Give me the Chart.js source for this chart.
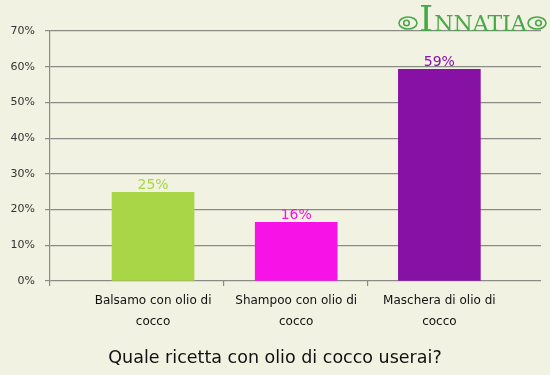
<!DOCTYPE html>
<html>
<head>
<meta charset="utf-8">
<style>
html,body{margin:0;padding:0;background:#f2f2e3;}
#wrap{width:550px;height:375px;position:relative;}
</style>
<script src="https://cdn.jsdelivr.net/npm/chart.js@4/dist/chart.umd.min.js"></script>
</head>
<body>
<div id="wrap"><canvas id="c" width="550" height="375"></canvas></div>
<script>
const categories = [["Balsamo con olio di","cocco"],["Shampoo con olio di","cocco"],["Maschera di olio di","cocco"]];
const values = [24.8, 16.4, 59.3];
const valueLabels = ["25%","16%","59%"];
const barColors = ["#a9d646","#f712e8","#8811a5"];
const yTicks = [0,10,20,30,40,50,60,70];
const titleText = "Quale ricetta con olio di cocco userai?";
const logoText = "INNATIA";

const GRID = "#8a8a86";

const valueLabelPlugin = {
  id: 'valueLabels',
  afterDatasetsDraw(chart){
    const ctx = chart.ctx;
    const meta = chart.getDatasetMeta(0);
    ctx.save();
    ctx.font = '14px "DejaVu Sans"';
    ctx.textAlign = 'center';
    ctx.textBaseline = 'alphabetic';
    meta.data.forEach((bar,i)=>{
      ctx.fillStyle = barColors[i];
      ctx.fillText(valueLabels[i], bar.x, bar.y - 3);
    });
    ctx.restore();
  }
};

const logoPlugin = {
  id: 'logo',
  afterDraw(chart){
    const ctx = chart.ctx;
    ctx.save();
    const green = "#48a848";
    ctx.fillStyle = green;
    ctx.textBaseline = 'alphabetic';
    ctx.font = '36px "DejaVu Serif"';
    ctx.textAlign = 'left';
    ctx.fillText(logoText[0], 419, 31);
    const w0 = ctx.measureText(logoText[0]).width;
    ctx.font = '22px "DejaVu Serif"';
    ctx.fillText(logoText.slice(1), 419 + w0 + 1, 31);
    // ornaments
    ctx.strokeStyle = green;
    ctx.lineWidth = 1.6;
    [[408,23,-1],[537,23,1]].forEach(([cx,cy,d])=>{
      ctx.beginPath();
      ctx.ellipse(cx, cy, 9, 6, 0, 0, Math.PI*2);
      ctx.stroke();
      ctx.beginPath();
      ctx.arc(cx + d*1.5, cy, 2.8, 0, Math.PI*2);
      ctx.stroke();
    });
    ctx.restore();
  }
};

const ctx = document.getElementById('c').getContext('2d');
new Chart(ctx, {
  type: 'bar',
  data: {
    datasets: [{
      data: values.map((v,i)=>({x:i, y:v})),
      backgroundColor: barColors,
      barThickness: 82,
      borderWidth: 0
    }]
  },
  options: {
    responsive: false,
    animation: false,
    devicePixelRatio: 1,
    layout: { padding: { top: 31, right: 9, left: 9, bottom: 0 } },
    plugins: {
      legend: { display: false },
      tooltip: { enabled: false },
      title: {
        display: true,
        text: titleText,
        position: 'bottom',
        color: '#111',
        font: { family: '"DejaVu Sans"', size: 17.5, weight: 'normal', lineHeight: 1.2 },
        padding: { top: 0, bottom: 6 }
      }
    },
    scales: {
      x: {
        type: 'linear',
        position: 'bottom',
        weight: 1,
        offset: false,
        min: -0.72,
        max: 2.71,
        afterBuildTicks: (s)=>{ s.ticks = categories.map((c,i)=>({value:i})); },
        afterFit: (s)=>{ s.height = 62; },
        ticks: {
          callback: (v)=> categories[v] || '',
          color: '#111',
          font: { family: '"DejaVu Sans"', size: 12, lineHeight: 1.75 },
          padding: 4,
          maxRotation: 0,
          autoSkip: false
        },
        grid: { display: false, drawTicks: false, offset: false },
        border: { display: false }
      },
      xt: {
        type: 'linear',
        position: 'bottom',
        weight: 0,
        offset: false,
        min: -0.72,
        max: 2.71,
        afterBuildTicks: (s)=>{ s.ticks = [{value:-0.72},{value:0.49},{value:1.5}]; },
        afterFit: (s)=>{ s.height = 5; },
        ticks: { display: false, autoSkip: false },
        grid: { display: true, offset: false, drawOnChartArea: false, drawTicks: true, tickLength: 5, color: GRID, lineWidth: 1.2 },
        border: { display: false }
      },
      y: {
        min: 0,
        max: 70,
        afterBuildTicks: (s)=>{ s.ticks = yTicks.map(v=>({value:v})); },
        afterFit: (s)=>{ s.width = 41; },
        ticks: {
          callback: (v)=> v + '%',
          color: '#333',
          font: { family: '"DejaVu Sans"', size: 11 },
          padding: 10
        },
        grid: { color: GRID, lineWidth: 1.2, tickLength: 5 },
        border: { display: true, color: GRID, width: 1.2 }
      }
    }
  },
  plugins: [valueLabelPlugin, logoPlugin]
});
</script>
</body>
</html>
